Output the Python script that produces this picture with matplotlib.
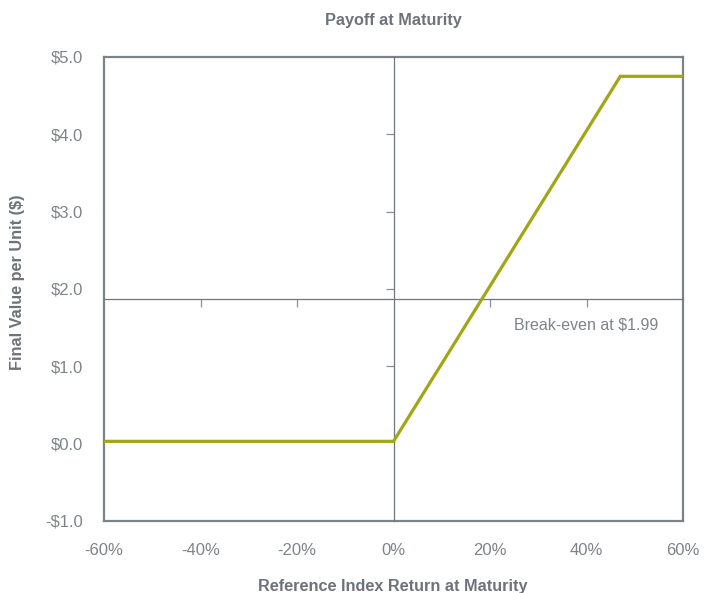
import matplotlib.pyplot as plt
from matplotlib.ticker import FuncFormatter

plt.rcParams['font.family'] = ['Liberation Sans', 'DejaVu Sans']

# payoff profile
ref_return = [-60, 0, 47, 60]   # %
payoff = [0.03, 0.03, 4.75, 4.75]  # $ per unit
breakeven_level = 1.87
breakeven_text = 'Break-even at $1.99'

x_labels = [-60, -40, -20, 0, 20, 40, 60]
y_labels = [-1, 0, 1, 2, 3, 4, 5]
x_inner = [-40, -20, 20, 40]
y_inner = [1, 2, 3, 4]

frame = '#7b8389'
txt = '#7d848a'
head = '#6d737a'
olive = '#a0a614'

fig = plt.figure(figsize=(7.04, 5.93), dpi=100)
pos = [104/704, 72/593, 579/704, 464/593]
ax = fig.add_axes(pos)
ax.set_xlim(-60, 60)
ax.set_ylim(-1, 5)
for s in ax.spines.values():
    s.set_color(frame)
    s.set_linewidth(1.6)
ax.set_xticks(x_labels)
ax.set_yticks(y_labels)
ax.xaxis.set_major_formatter(FuncFormatter(lambda v, p: '%d%%' % v))
ax.yaxis.set_major_formatter(FuncFormatter(lambda v, p: ('-$%.1f' % -v) if v < 0 else '$%.1f' % v))
ax.tick_params(length=0, labelsize=12, labelcolor=txt)
ax.tick_params(axis='x', pad=16)
ax.tick_params(axis='y', pad=15)

# inner cross-hair axes with their own ticks
ax2 = fig.add_axes(pos)
ax2.patch.set_visible(False)
ax2.spines['top'].set_visible(False)
ax2.spines['right'].set_visible(False)
ax2.spines['left'].set_position(('data', 0))
ax2.spines['bottom'].set_position(('data', breakeven_level))
for k in ['left', 'bottom']:
    ax2.spines[k].set_color('#6f777e')
    ax2.spines[k].set_linewidth(0.9)
ax2.set_xlim(-60, 60)
ax2.set_ylim(-1, 5)
ax2.set_xticks(x_inner)
ax2.set_yticks(y_inner)
ax2.tick_params(direction='out', length=6, width=0.9, color='#8a9096',
                labelbottom=False, labelleft=False)

ax2.plot(ref_return, payoff, color=olive, lw=2.3, solid_joinstyle='miter', zorder=5)
ax2.text(25, 1.53, breakeven_text, fontsize=11.5, color=txt, va='center', ha='left')

fig.text(393/704, 1 - 20/593, 'Payoff at Maturity', ha='center', va='center',
         fontsize=11.7, fontweight='bold', color=head)
fig.text(18/704, 1 - 282/593, 'Final Value per Unit ($)', rotation=90, ha='center',
         va='center', fontsize=11.7, fontweight='bold', color=head)
fig.text(393/704, 1 - 586/593, 'Reference Index Return at Maturity', ha='center',
         va='center', fontsize=11.7, fontweight='bold', color=head)

fig.savefig('out.png', dpi=100)
